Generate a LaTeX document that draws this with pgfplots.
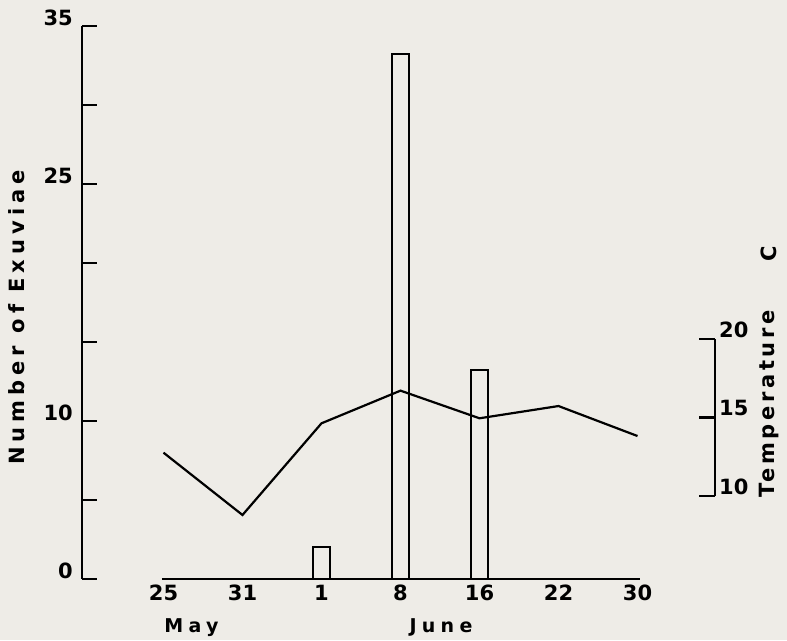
\documentclass[border=0pt]{standalone}
\usepackage{pgfplots}
\pgfplotsset{compat=1.18}
\usepackage{fontspec}
\setmainfont{DejaVu Sans}
\newfontfamily\lbl[LetterSpace=24]{DejaVu Sans}
\newfontfamily\tlbl[LetterSpace=17]{DejaVu Sans}
\newfontfamily\mon[LetterSpace=28]{DejaVu Sans}
\definecolor{paper}{RGB}{238,236,231}

\begin{document}
\begin{tikzpicture}[x=1pt,y=1pt]
\fill[paper] (0,0) rectangle (787,640);

% exuviae counts, categories at 0..6
\begin{axis}[
  scale only axis, width=633pt, height=553pt,
  at={(82pt,61pt)}, anchor=south west,
  xmin=-1.0316, xmax=6.981, ymin=0, ymax=35,
  axis y line*=left, axis x line*=bottom,
  x axis line style={draw=none},
  y axis line style={line width=2.2pt},
  xtick={0,...,6}, xticklabels={25,31,1,8,16,22,30},
  xtick style={draw=none},
  xticklabel style={anchor=north, inner sep=0pt, yshift=-6pt},
  ytick={0,5,...,35}, yticklabels={0,,10,,,25,,35},
  ytick style={line width=2.2pt, black},
  major tick length=15pt, tick align=inside,
  yticklabel style={anchor=south east, inner sep=0pt, xshift=-9pt},
  tick label style={font=\bfseries\fontsize{21}{21}\selectfont},
  clip=false,
]
\addplot[ybar, bar width=17pt, draw=black, fill=paper, line width=2pt]
  coordinates {(2,2) (3,33.2) (4,13.2)};
\addplot[black, line width=2.2pt] coordinates {(-0.02,0) (6.03,0)};
\end{axis}

% temperature
\begin{axis}[
  scale only axis, width=633pt, height=157pt,
  at={(82pt,144pt)}, anchor=south west,
  xmin=-1.0316, xmax=6.981, ymin=10, ymax=20,
  axis y line*=right, axis x line=none,
  y axis line style={line width=2.2pt},
  ytick={10,15,20}, yticklabels={10,15,20},
  ytick style={line width=2.2pt, black},
  major tick length=16pt, tick align=inside,
  yticklabel style={anchor=south west, inner sep=0pt, xshift=4pt, yshift=1pt},
  tick label style={font=\bfseries\fontsize{21}{21}\selectfont},
  clip=false,
]
\addplot[black, line width=2.2pt]
  coordinates {(0,12.76) (1,8.79) (2,14.63) (3,16.71) (4,14.95) (5,15.73) (6,13.82)};
\end{axis}

\node[rotate=90, font=\lbl\bfseries\fontsize{21}{21}\selectfont] at (16.5,322.5) {Number of Exuviae};
\node[rotate=90, font=\tlbl\bfseries\fontsize{21}{21}\selectfont] at (769,236) {Temperature};
\node[rotate=90, font=\tlbl\bfseries\fontsize{21}{21}\selectfont] at (769,386.5) {C};
\node[anchor=base, font=\mon\bfseries\fontsize{19}{19}\selectfont] at (191.5,7) {May};
\node[anchor=base, font=\mon\bfseries\fontsize{19}{19}\selectfont] at (441,7) {June};
\end{tikzpicture}
\end{document}
